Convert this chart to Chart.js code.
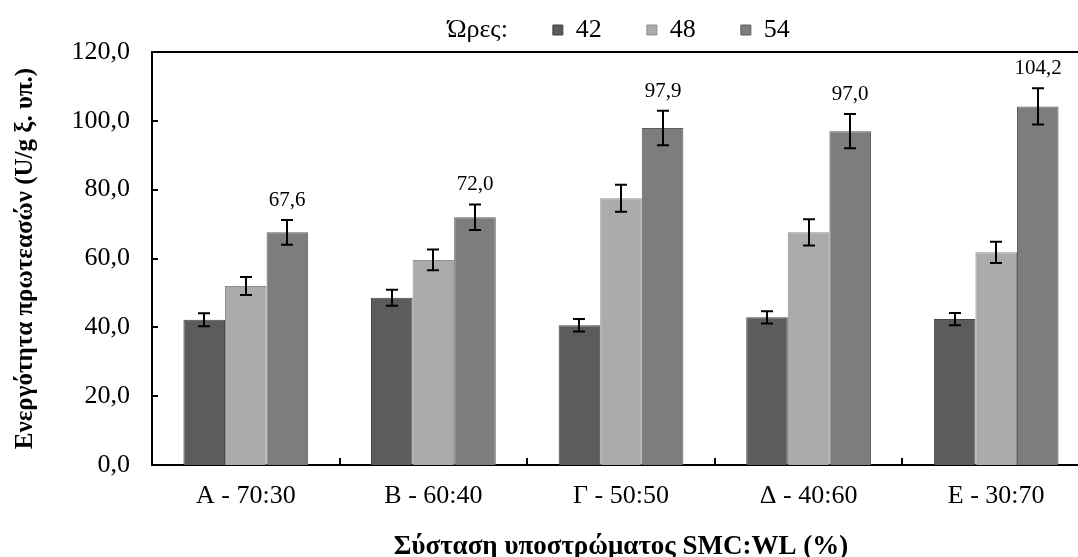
<!DOCTYPE html>
<html>
<head>
<meta charset="utf-8">
<script src="https://cdn.jsdelivr.net/npm/chart.js@4.4.1/dist/chart.umd.min.js"></script>
<style>
  html, body { margin: 0; padding: 0; background: #fff; overflow: hidden; }
  #wrap { width: 1092px; height: 557px; }
</style>
</head>
<body>
<div id="wrap"><canvas id="myChart" width="1092" height="557"></canvas></div>
<script>
// categories (substrate SMC:WL)
var categories = ["Α - 70:30", "Β - 60:40", "Γ - 50:50", "Δ - 40:60", "Ε - 30:70"];
var hours = ["42", "48", "54"];

// protease activity per hour
var vals42 = [42.2, 48.6, 40.6, 42.9, 42.4];
var vals48 = [52.0, 59.6, 77.5, 67.6, 61.8];
var vals54 = [67.6, 72.0, 97.9, 97.0, 104.2];

// error bar half-lengths
var err42 = [1.9, 2.3, 1.8, 1.8, 1.8];
var err48 = [2.6, 3.0, 3.9, 3.8, 3.1];
var err54 = [3.6, 3.7, 5.0, 5.0, 5.3];

var yTicks = [0, 20, 40, 60, 80, 100, 120];

var colors = ["#5c5c5c", "#ababab", "#7d7d7d"];
var edges = ["#464646", "#8f8f8f", "#5e5e5e"];
var FONT = "'Liberation Serif', 'Times New Roman', serif";

function fmt(v) { return v.toFixed(1).replace(".", ","); }

var allErr = [err42, err48, err54];

var errorBars = {
  id: "errorBars",
  afterDatasetsDraw: function (chart) {
    var ctx = chart.ctx;
    var ys = chart.scales.y;
    ctx.save();
    ctx.strokeStyle = "#000";
    ctx.lineWidth = 2;
    chart.data.datasets.forEach(function (ds, di) {
      var meta = chart.getDatasetMeta(di);
      meta.data.forEach(function (bar, i) {
        var v = ds.data[i], e = allErr[di][i];
        var top = ys.getPixelForValue(v + e);
        var bot = ys.getPixelForValue(v - e);
        var x = Math.round(bar.x);
        ctx.beginPath();
        ctx.moveTo(x, top); ctx.lineTo(x, bot);
        ctx.moveTo(x - 6, top); ctx.lineTo(x + 6, top);
        ctx.moveTo(x - 6, bot); ctx.lineTo(x + 6, bot);
        ctx.stroke();
        if (di === 2) {
          ctx.fillStyle = "#000";
          ctx.font = "21px " + FONT;
          ctx.textAlign = "center";
          ctx.textBaseline = "bottom";
          ctx.fillText(fmt(v), x, top - 9);
        }
      });
    });
    ctx.restore();
  }
};

var frame = {
  id: "frame",
  afterLayout: function (chart) {
    // legend sits over the plot rather than the whole canvas
    var lg = chart.legend;
    lg.left += 62;
    lg.right += 62;
    lg.top = -28;
    lg.bottom = 60;
  },
  afterDraw: function (chart) {
    var ctx = chart.ctx, a = chart.chartArea;
    var ys = chart.scales.y;
    ctx.save();
    ctx.strokeStyle = "#000";
    ctx.lineWidth = 2;
    ctx.beginPath();
    ctx.moveTo(a.left, a.top); ctx.lineTo(a.right, a.top);
    ctx.moveTo(a.right, a.top); ctx.lineTo(a.right, a.bottom);
    // inward tick marks
    ys.ticks.forEach(function (t) {
      var y = Math.round(ys.getPixelForValue(t.value));
      ctx.moveTo(a.left, y); ctx.lineTo(a.left + 6, y);
    });
    var cw = (a.right - a.left) / categories.length;
    for (var k = 1; k < categories.length; k++) {
      var x = Math.round(a.left + k * cw);
      ctx.moveTo(x, a.bottom); ctx.lineTo(x, a.bottom - 7);
    }
    ctx.stroke();
    ctx.restore();
  }
};

var canvas = document.getElementById("myChart").getContext("2d");

var chart = new Chart(canvas, {
  type: "bar",
  data: {
    labels: categories,
    datasets: [
      { label: hours[0], data: vals42, backgroundColor: colors[0], borderColor: edges[0], borderWidth: 1 },
      { label: hours[1], data: vals48, backgroundColor: colors[1], borderColor: edges[1], borderWidth: 1 },
      { label: hours[2], data: vals54, backgroundColor: colors[2], borderColor: edges[2], borderWidth: 1 }
    ]
  },
  options: {
    responsive: false,
    animation: false,
    layout: { padding: { top: 6, right: 2, left: 0, bottom: 0 } },
    datasets: { bar: { categoryPercentage: 0.665, barPercentage: 1 } },
    plugins: {
      tooltip: { enabled: false },
      legend: {
        position: "top",
        align: "center",
        maxHeight: 46,
        labels: {
          color: "#000",
          font: { family: FONT, size: 26 },
          boxWidth: 10,
          boxHeight: 10,
          padding: 45,
          generateLabels: function (ch) {
            var items = [{ text: "Ώρες:", fillStyle: "rgba(0,0,0,0)", strokeStyle: "rgba(0,0,0,0)", lineWidth: 0, datasetIndex: -1 }];
            ch.data.datasets.forEach(function (ds, i) {
              items.push({ text: ds.label, fillStyle: colors[i], strokeStyle: edges[i], lineWidth: 1, datasetIndex: i });
            });
            return items;
          }
        }
      }
    },
    scales: {
      x: {
        grid: { display: false, drawTicks: false },
        border: { display: true, color: "#000", width: 2 },
        ticks: { color: "#000", font: { family: FONT, size: 26 }, padding: 16, maxRotation: 0 },
        title: { display: true, text: "Σύσταση υποστρώματος SMC:WL (%)", color: "#000", font: { family: FONT, size: 27, weight: "bold" }, padding: { top: 10, bottom: -6 } },
        afterFit: function (s) { s.height = 92; }
      },
      y: {
        min: 0,
        max: 120,
        afterBuildTicks: function (s) { s.ticks = yTicks.map(function (v) { return { value: v }; }); },
        grid: { display: false, drawTicks: false },
        border: { display: true, color: "#000", width: 2 },
        ticks: { color: "#000", font: { family: FONT, size: 26 }, padding: 22, callback: function (v) { return fmt(v); } },
        title: { display: true, text: "Ενεργότητα πρωτεασών (U/g ξ. υπ.)", color: "#000", font: { family: FONT, size: 25, weight: "bold" }, padding: { top: 11, bottom: 8 } },
        afterFit: function (s) { s.width = 152; }
      }
    }
  },
  plugins: [errorBars, frame]
});
</script>
</body>
</html>
